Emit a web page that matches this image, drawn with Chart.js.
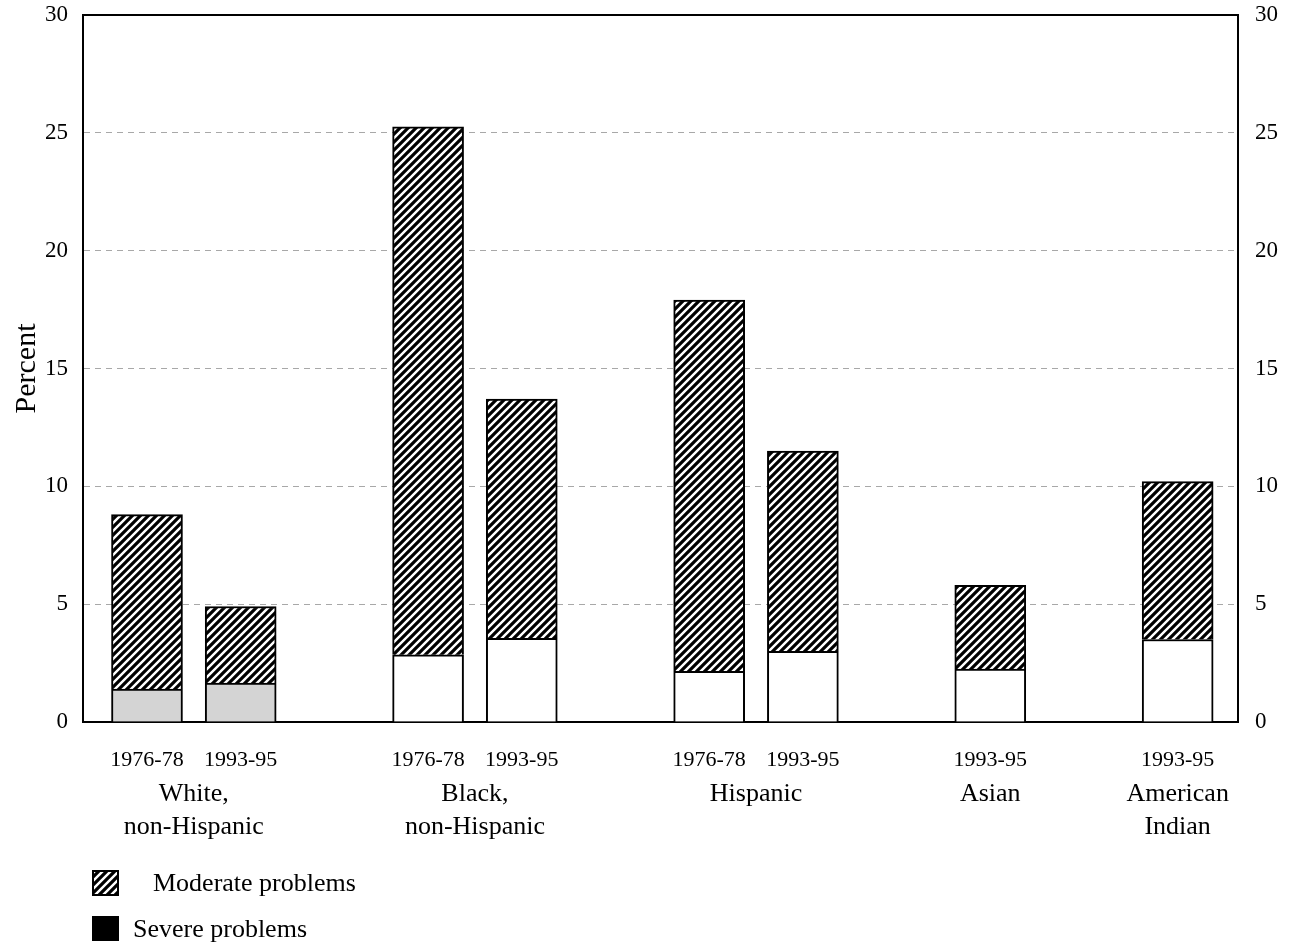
<!DOCTYPE html>
<html>
<head>
<meta charset="utf-8">
<script src="https://cdn.jsdelivr.net/npm/chart.js@4.4.1/dist/chart.umd.min.js"></script>
<style>
  html, body { margin: 0; padding: 0; background: #fff; }
  #wrap { position: relative; width: 1295px; height: 947px; }
  #legend { position: absolute; left: 92px; top: 870px; font-family: 'Liberation Serif', serif; font-size: 26px; color: #000; }
  .row { position: absolute; left: 0; white-space: nowrap; height: 26px; }
  .row canvas { position: absolute; left: 0; top: 0; }
  .row span { position: absolute; top: 50%; transform: translateY(-50%); }
</style>
</head>
<body>
<div id="wrap">
  <canvas id="chart" width="1295" height="947"></canvas>
  <div id="legend">
    <div class="row" style="top:0"><canvas id="lg-mod" width="27" height="26"></canvas><span style="left:61px">Moderate problems</span></div>
    <div class="row" style="top:46px"><canvas id="lg-sev" width="27" height="25"></canvas><span style="left:41px">Severe problems</span></div>
  </div>
</div>
<script>
'use strict';

/* ── Data ─────────────────────────────────────────────────────── */
const slots = [0, 1, 3, 4, 6, 7, 9, 11];
const periods = ['1976-78', '1993-95', '1976-78', '1993-95', '1976-78', '1993-95', '1993-95', '1993-95'];
const groupCenters = [0.5, 3.5, 6.5, 9, 11];
const groupNames = [['White,', 'non-Hispanic'], ['Black,', 'non-Hispanic'], ['Hispanic'], ['Asian'], ['American', 'Indian']];
const severe = [1.4, 1.65, 2.85, 3.55, 2.15, 3.0, 2.25, 3.5];
const moderate = [7.4, 3.25, 22.4, 10.15, 15.75, 8.5, 3.55, 6.7];
const yTicks = [0, 5, 10, 15, 20, 25, 30];

/* ── Hatch pattern ────────────────────────────────────────────── */
function makeHatch() {
    const p = document.createElement('canvas');
    p.width = 8; p.height = 8;
    const g = p.getContext('2d');
    g.fillStyle = '#fff';
    g.fillRect(0, 0, 8, 8);
    g.strokeStyle = '#000';
    g.lineWidth = 3.2;
    g.beginPath();
    g.moveTo(-4, 4); g.lineTo(4, -4);
    g.moveTo(0, 8); g.lineTo(8, 0);
    g.moveTo(4, 12); g.lineTo(12, 4);
    g.stroke();
    return g.createPattern(p, 'repeat');
}
const hatch = makeHatch();

// legend swatches
(function () {
    const m = document.getElementById('lg-mod').getContext('2d');
    m.fillStyle = makeHatch(); m.fillRect(0, 0, 27, 26);
    m.strokeStyle = '#000'; m.lineWidth = 2; m.strokeRect(1, 1, 25, 24);
    const s = document.getElementById('lg-sev').getContext('2d');
    s.fillStyle = '#000'; s.fillRect(0, 0, 27, 25);
})();

Chart.defaults.font.family = "'Liberation Serif', serif";
Chart.defaults.color = '#000';

const severeFill = ['#d4d4d4', '#d4d4d4', '#fff', '#fff', '#fff', '#fff', '#fff', '#fff'];
const X_MIN = -0.683, X_MAX = 11.644;

// vertical axes: fixed width, no extra top/bottom padding from tick labels
const fitY = w => s => { s.width = w; s.paddingTop = 0; s.paddingBottom = 0; };

const config = {
    type: 'bar',
    data: {
        datasets: [
            {
                label: 'Severe problems',
                data: slots.map((x, i) => ({ x, y: severe[i] })),
                backgroundColor: severeFill,
                borderColor: '#000', borderWidth: 2,
                barThickness: 71,
                xAxisID: 'x', yAxisID: 'y'
            },
            {
                label: 'Moderate problems',
                data: slots.map((x, i) => ({ x, y: moderate[i] })),
                backgroundColor: hatch,
                borderColor: '#000', borderWidth: 2,
                barThickness: 71,
                xAxisID: 'x', yAxisID: 'y'
            }
        ]
    },
    options: {
        responsive: false, animation: false,
        layout: { padding: { top: 15, left: 0, right: 0, bottom: 0 } },
        plugins: { legend: { display: false }, tooltip: { enabled: false } },
        scales: {
            x: {
                type: 'linear', position: 'bottom', stacked: true, offset: false,
                min: X_MIN, max: X_MAX,
                grid: { display: false },
                border: { display: true, color: '#000', width: 2 },
                afterBuildTicks: s => { s.ticks = slots.map(v => ({ value: v })); },
                afterFit: s => { s.height = 45; },
                ticks: {
                    autoSkip: false, maxRotation: 0, padding: 17,
                    font: { size: 22 },
                    callback: (v, i) => periods[i]
                }
            },
            xg: {
                type: 'linear', position: 'bottom', offset: false,
                min: X_MIN, max: X_MAX,
                grid: { display: false },
                border: { display: false },
                afterBuildTicks: s => { s.ticks = groupCenters.map(v => ({ value: v })); },
                afterFit: s => { s.height = 180; },
                ticks: {
                    autoSkip: false, maxRotation: 0, padding: 3,
                    font: { size: 26, lineHeight: '33px' },
                    callback: (v, i) => groupNames[i]
                }
            },
            xTop: {
                type: 'linear', position: 'top', min: 0, max: 1, offset: false,
                grid: { display: false },
                ticks: { display: false },
                border: { display: true, color: '#000', width: 2 },
                afterFit: s => { s.height = 0; }
            },
            y: {
                position: 'left', stacked: true,
                min: 0, max: 30,
                afterBuildTicks: s => { s.ticks = yTicks.map(v => ({ value: v })); },
                afterFit: fitY(83),
                grid: {
                    drawTicks: false,
                    color: c => (c.tick && (c.tick.value === 0 || c.tick.value === 30)) ? 'rgba(0,0,0,0)' : '#a8a8a8',
                    lineWidth: 1
                },
                border: { display: true, color: '#000', width: 2, dash: [6, 5] },
                ticks: { padding: 15, font: { size: 23 } },
                title: { display: true, text: 'Percent', font: { size: 30 }, padding: { top: 9, bottom: 0 } }
            },
            y2: {
                position: 'right',
                min: 0, max: 30,
                afterBuildTicks: s => { s.ticks = yTicks.map(v => ({ value: v })); },
                afterFit: fitY(57),
                grid: { display: false, drawTicks: false },
                border: { display: true, color: '#000', width: 2 },
                ticks: { padding: 17, font: { size: 23 } }
            }
        }
    }
};

new Chart(document.getElementById('chart'), config);
</script>
</body>
</html>
